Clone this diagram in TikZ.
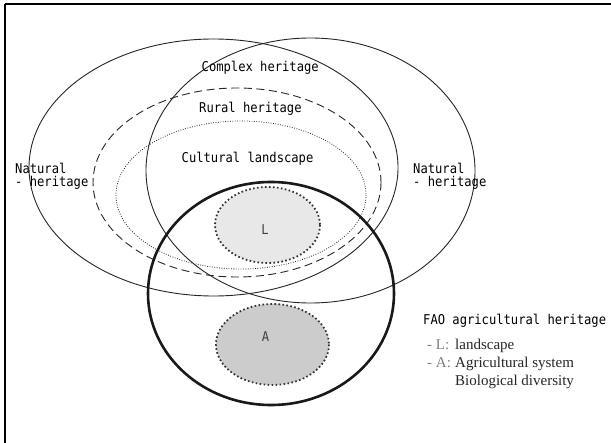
\documentclass[tikz,border=0pt]{standalone}
\usepackage{fontspec}
\setmainfont{Liberation Serif}
\newfontfamily\monof[FakeStretch=0.9]{DejaVu Sans Mono}
\begin{document}
\begin{tikzpicture}[x=1bp,y=-1bp,
  ring/.style={line width=0.9bp, draw=black!85},
  mono/.style={font=\monof\fontsize{13.5bp}{11bp}\selectfont, inner sep=0pt, text=black},
  serif/.style={font=\fontsize{15bp}{17bp}\selectfont, inner sep=0pt, text=black!85},
  keyg/.style={font=\fontsize{15bp}{17bp}\selectfont, inner sep=0pt, text=black!50},
  core/.style={line width=1.8bp, draw=black!80, dash pattern=on 1.6bp off 2.4bp},
  inlbl/.style={font=\monof\fontsize{13.5bp}{11bp}\selectfont, inner sep=0pt, text=black!75},
]
\useasboundingbox (0,0) rectangle (611,443);
\fill[white] (0,0) rectangle (611,443);
% frame
\draw[line width=2bp] (5,4) -- (611,4);
\draw[line width=1.6bp] (5,4) -- (5,443);
% natural / complex heritage ellipses
\draw[ring] (213.5,167.5) ellipse [x radius=184.5, y radius=128.5];
\draw[ring] (310.5,170.5) ellipse [x radius=164.5, y radius=132.5];
% rural heritage (dashed)
\draw[ring, dash pattern=on 8bp off 4.5bp] (237,182.5) ellipse [x radius=144, y radius=94.5];
% cultural landscape (dotted)
\draw[line width=0.8bp, draw=black!85, dash pattern=on 0.8bp off 1.6bp] (241,195) ellipse [x radius=125, y radius=74];
% FAO circle
\draw[line width=2.6bp, draw=black!90] (271,293.5) ellipse [x radius=123, y radius=111.5];
% L and A
\filldraw[core, fill=black!9] (267.5,225) ellipse [x radius=52.5, y radius=38];
\filldraw[core, fill=black!20] (272.5,344.5) ellipse [x radius=56.5, y radius=40.5];
\node[inlbl] (lL) at (265,230) {L};
\node[inlbl] (lA) at (265.5,337) {A};
% labels
\node[mono, anchor=base west] (complex) at (201.5,71.5) {Complex heritage};
\node[mono, anchor=base west] (rural) at (199,112.5) {Rural heritage};
\node[mono, anchor=base west] (cult) at (181.5,162.5) {Cultural landscape};
\node[mono, anchor=base west] (natL1) at (15,174) {Natural};
\node[mono, anchor=base west] (natL2) at (15,187) {- heritage};
\node[mono, anchor=base west] (natR1) at (413,174) {Natural};
\node[mono, anchor=base west] (natR2) at (413,187) {- heritage};
% legend
\node[mono, anchor=base west] (fao) at (423,324.5) {FAO agricultural heritage};
\node[keyg, anchor=base west] (kL) at (427,349) {- L:};
\node[serif, anchor=base west] (tL) at (455,349) {landscape};
\node[keyg, anchor=base west] (kA) at (427,367) {- A:};
\node[serif, anchor=base west] (tA1) at (455,367) {Agricultural system};
\node[serif, anchor=base west] (tA2) at (455,385) {Biological diversity};
\end{tikzpicture}
\end{document}
